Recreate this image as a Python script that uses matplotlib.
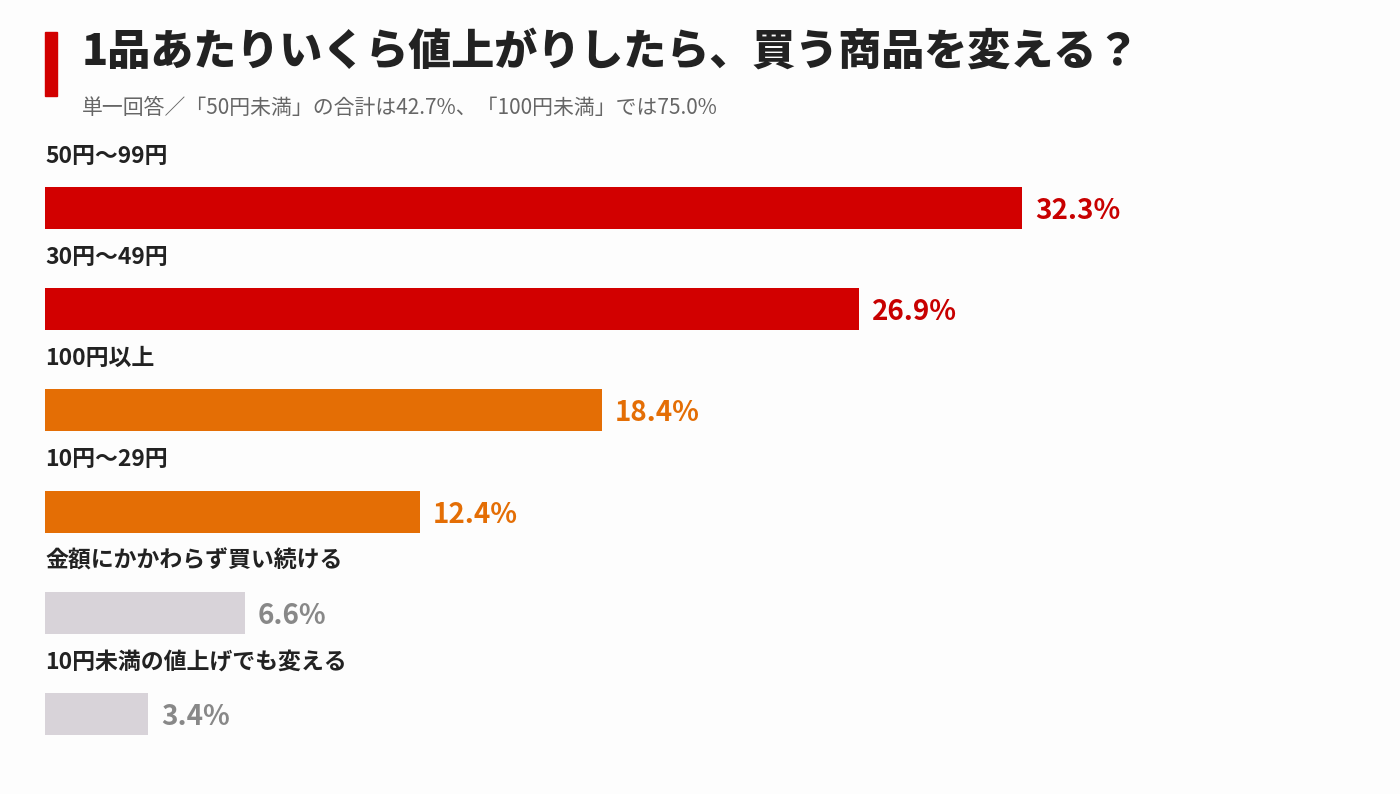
import matplotlib.pyplot as plt

plt.rcParams['font.family'] = ['Noto Sans CJK JP', 'DejaVu Sans']

categories = ['50円～99円', '30円～49円', '100円以上', '10円～29円',
              '金額にかかわらず買い続ける', '10円未満の値上げでも変える']
values = [32.3, 26.9, 18.4, 12.4, 6.6, 3.4]
bar_colors = ['#D20000', '#D20000', '#E46E05', '#E46E05', '#D8D3D9', '#D8D3D9']
label_colors = ['#C80000', '#C80000', '#E46E05', '#E46E05', '#888888', '#888888']

title = '1品あたりいくら値上がりしたら、買う商品を変える？'
subtitle = '単一回答／「50円未満」の合計は42.7%、「100円未満」では75.0%'

W, H = 1400, 794
fig = plt.figure(figsize=(W / 100, H / 100), dpi=100, facecolor='#FDFDFD')

# axes: x=0 at px 45, 30.25 px per %, rows 101.2 px apart starting at 208
ax = fig.add_axes([45 / W, 1 - 764.6 / H, 1210 / W, 607.2 / H])
ax.set_facecolor('none')
ax.set_xlim(0, 40)
ax.set_ylim(5.5, -0.5)
ax.axis('off')

ypos = range(len(categories))
ax.barh(ypos, values, height=0.415, color=bar_colors)
for i, (cat, v) in enumerate(zip(categories, values)):
    ax.text(0, i - 0.51, cat, fontsize=16.5, fontweight='bold', color='#222222',
            ha='left', va='center')
    ax.text(v + 0.43, i + 0.03, f'{v}%', fontsize=20, fontweight='bold', color=label_colors[i],
            ha='left', va='center')

# title block
fig.patches.append(plt.Rectangle((45 / W, 1 - 96 / H), 12 / W, 64 / H,
                                 transform=fig.transFigure, color='#D20000'))
fig.text(82 / W, 1 - 52 / H, title, fontsize=31, fontweight='heavy', color='#222222',
         ha='left', va='center')
fig.text(82 / W, 1 - 108 / H, subtitle, fontsize=15, color='#666666',
         ha='left', va='center')

fig.savefig('out.png', dpi=100, facecolor=fig.get_facecolor())
